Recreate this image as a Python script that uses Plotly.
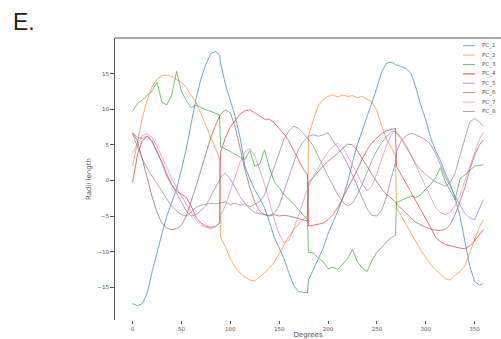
import plotly.graph_objects as go

# Angular positions (degrees); each quadrant ends at q*90+89 so jumps at 90/180/270 draw as verticals
DEGREES = [
    0, 5, 10, 15, 20, 25, 30, 35, 40, 45, 50, 55, 60, 65, 70, 75, 80, 85, 89,
    90, 95, 100, 105, 110, 115, 120, 125, 130, 135, 140, 145, 150, 155, 160, 165, 170, 175, 179,
    180, 185, 190, 195, 200, 205, 210, 215, 220, 225, 230, 235, 240, 245, 250, 255, 260, 265, 269,
    270, 275, 280, 285, 290, 295, 300, 305, 310, 315, 320, 325, 330, 335, 340, 345, 350, 355, 359,
]

PC_1 = [
    -17.3, -17.6, -17.3, -15.8, -12.8, -10.0, -7.5, -5.0, -3.0, -1.2, 1.5, 4.5, 8.0, 11.5, 14.3, 16.3, 17.8, 18.1, 17.6,
    16.5, 13.5, 11.2, 9.0, 6.0, 2.0, 0.2, -1.3, -2.5, -3.8, -5.8, -8.0, -9.5, -11.0, -13.0, -14.8, -15.6, -15.7, -15.8,
    -14.0, -12.5, -11.0, -9.5, -7.5, -6.0, -4.3, -2.5, -0.3, 2.5, 5.0, 7.0, 9.0, 10.8, 13.0, 15.3, 16.5, 16.6, 16.3,
    16.2, 16.0, 15.7, 15.0, 13.0, 10.5, 8.5, 6.0, 4.2, 2.8, 1.0, -0.5, -2.5, -5.0, -8.5, -12.0, -14.2, -14.7, -14.5,
]
PC_2 = [
    2.0, 5.5, 8.8, 11.3, 13.2, 14.2, 14.7, 14.8, 14.6, 14.2, 13.8, 13.0, 12.0, 10.9, 9.4, 7.8, 6.0, 4.4, 3.0,
    -8.0, -9.3, -11.0, -12.2, -13.0, -13.6, -14.0, -14.1, -13.6, -13.0, -12.3, -11.5, -10.3, -9.0, -7.8, -6.9, -6.1, -5.4, -5.0,
    6.2, 8.5, 10.5, 11.3, 11.8, 12.0, 11.7, 12.0, 11.8, 11.9, 11.6, 11.8, 11.4, 11.0, 9.8, 7.6, 5.8, 4.5, 3.5,
    -3.8, -5.0, -6.3, -7.5, -8.7, -9.8, -10.8, -11.8, -12.5, -13.2, -13.8, -14.0, -13.3, -12.8, -12.0, -10.2, -8.2, -6.5, -5.5,
]
PC_3 = [
    9.7, 10.8, 11.3, 11.9, 12.6, 13.8, 11.0, 10.6, 12.0, 15.3, 12.5, 11.2, 10.2, 10.6, 10.2, 9.9, 9.7, 9.4, 9.2,
    4.8, 4.4, 4.0, 3.6, 3.3, 2.9, 4.2, 2.0, 2.3, 4.3, 1.8, -0.2, -1.0, -2.0, -2.6, -3.4, -4.2, -5.0, -5.5,
    -10.1, -10.2, -10.9, -11.4, -12.4, -12.2, -12.5, -11.8, -11.0, -9.7, -11.4, -12.3, -12.8, -11.2, -10.1, -9.4, -8.6, -8.0, -7.7,
    -3.1, -2.8, -2.5, -2.2, -2.4, -2.0, -1.2, -0.6, 0.4, 1.8, -0.2, -1.5, -2.7, 0.2, 0.8, 1.5, 2.0, 2.1, 2.2,
]
PC_4 = [
    -0.3, 3.6, 5.6, 6.2, 5.4, 4.0, 2.5, 0.6, -0.6, -1.5, -2.0, -2.4, -3.6, -5.2, -6.0, -6.4, -6.6, -6.4, -6.0,
    4.0, 6.0, 7.5, 8.4, 9.3, 9.8, 9.9, 9.5, 9.0, 8.6, 8.6, 8.1, 7.3, 6.5, 5.5, 4.2, 2.8, 1.5, 0.8,
    -6.4, -6.3, -6.2, -6.0, -5.5, -4.8, -3.8, -2.5, -1.2, 0.2, 1.5, 3.0, 4.3, 5.3, 6.0, 6.6, 7.0, 7.2, 7.3,
    2.0, 0.8, -0.5, -1.8, -3.0, -4.2, -5.3, -6.6, -8.0, -8.6, -9.0, -9.2, -9.4, -9.5, -9.6, -9.2, -8.5, -7.6, -6.9,
]
PC_5 = [
    6.7, 6.0, 5.9, 6.3, 5.6, 4.2, 2.6, 1.0, -0.6, -1.8, -3.0, -4.3, -5.0, -4.8, -4.2, -3.6, -2.2, -1.0, 0.0,
    0.5, 1.0, 0.2, -1.0, -2.3, -3.2, -4.0, -4.5, -4.7, -4.8, -4.9, -4.6, -3.5, -1.5, 0.8, 2.8, 4.5, 5.5, 6.0,
    6.2, 6.4, 6.2, 6.4, 6.7, 5.6, 4.6, 3.6, 2.3, 0.8, -0.8, -2.5, -4.0, -4.9, -5.0, -4.2, -2.2, 0.5, 2.5,
    4.0, 5.6, 6.3, 6.6, 6.4, 6.0, 5.7, 5.0, 3.8, 2.2, 0.5, -0.8, -2.2, -3.5, -4.6, -5.3, -5.5, -4.0, -2.7,
]
PC_6 = [
    6.7, 5.5, 3.0, 0.3, -2.3, -4.5, -6.0, -6.7, -6.9, -6.8, -6.3, -5.0, -3.0, -0.8, 1.5, 3.8, 6.0, 7.8, 9.0,
    9.3, 9.9, 9.5, 7.5, 4.5, 1.5, -1.0, -3.0, -4.3, -4.8, -5.0, -4.8, -5.0, -4.9, -5.0, -5.2, -5.4, -5.6, -5.7,
    -0.3, 0.5, 1.2, 2.0, 2.7, 3.2, 3.8, 4.5, 5.1, 5.0, 4.2, 3.0, 2.0, 0.8, -0.2, -1.2, -2.0, -2.6, -3.0,
    -3.3, -4.0, -4.7, -5.3, -5.9, -6.3, -6.6, -6.8, -7.0, -7.0, -6.9, -6.2, -4.8, -3.0, -1.0, 1.5, 3.5, 5.0, 5.7,
]
PC_7 = [
    3.9, 5.2, 6.3, 6.6, 6.0, 4.8, 3.2, 1.8, 0.3, -1.0, -2.2, -3.3, -4.5, -5.6, -6.3, -6.6, -6.8, -6.5, -6.0,
    -5.0, -3.5, -1.5, 0.5, 2.5, 4.0, 4.5, 3.5, 1.5, -0.5, -3.0, -5.5, -7.5, -8.8, -8.4, -6.8, -4.8, -2.8, -1.2,
    -0.8, 0.5, 1.8, 3.0, 4.0, 4.8, 5.2, 4.6, 3.5, 2.2, 0.8, -0.5, -1.5, -0.8, 1.0, 3.0, 5.0, 6.5, 7.0,
    6.8, 6.0, 5.0, 3.5, 2.0, 0.5, -1.0, -2.5, -3.8, -4.5, -4.8, -4.5, -3.5, -2.0, 0.0, 2.0, 4.0, 5.8, 6.7,
]
PC_8 = [
    6.5, 4.8, 3.0, 1.7, 0.6, -0.5, -1.5, -2.6, -3.6, -4.3, -4.8, -5.0, -4.4, -3.8, -3.5, -3.3, -3.2, -3.3, -3.2,
    -3.2, -3.0, -3.4, -3.2, -3.5, -3.3, -3.7, -3.4, -3.0, -2.0, 0.0, 2.0, 4.0, 5.8, 7.0, 7.6, 7.3, 6.5, 6.0,
    5.8, 4.8, 3.5, 2.0, 0.6, -0.8, -2.0, -3.0, -3.6, -3.2, -2.0, -0.5, 1.2, 2.8, 4.2, 5.3, 6.2, 6.8, 7.0,
    6.6, 5.8, 4.6, 3.3, 2.3, 1.5, 0.8, 0.3, -0.2, -0.5, -0.8, -0.3, 1.0, 3.5, 6.0, 8.2, 8.7, 8.2, 7.6,
]

SERIES_NAMES = ["PC_1", "PC_2", "PC_3", "PC_4", "PC_5", "PC_6", "PC_7", "PC_8"]
SERIES_VALUES = [PC_1, PC_2, PC_3, PC_4, PC_5, PC_6, PC_7, PC_8]
COLORS = ["#1f77b4", "#ff7f0e", "#2ca02c", "#d62728", "#9467bd", "#8c564b", "#e377c2", "#7f7f7f"]

X_TICKS = [0, 50, 100, 150, 200, 250, 300, 350]
Y_TICKS = [-15, -10, -5, 0, 5, 10, 15]

W, H = 501, 339
ML, MR, MT, MB = 115, 0, 38, 19
PW, PH = W - ML - MR, H - MT - MB

fig = go.Figure()
for name, vals, col in zip(SERIES_NAMES, SERIES_VALUES, COLORS):
    fig.add_trace(go.Scatter(
        x=DEGREES, y=vals, mode="lines", name=name,
        line=dict(color=col, width=0.8), opacity=0.8, showlegend=False,
    ))

tick_font = dict(family="DejaVu Sans", size=5.5, color="#555")
label_font = dict(family="DejaVu Sans", size=7, color="#555")


def px_x(px):
    return (px - ML) / PW


def px_y(py):
    return (H - MB - py) / PH


# compact legend in the upper-right corner of the axes
shapes = [dict(type="line", xref="paper", yref="paper", x0=0, x1=1, y0=1, y1=1,
               line=dict(color="#555", width=1))]
annotations = []
for i, (name, col) in enumerate(zip(SERIES_NAMES, COLORS)):
    yy = px_y(45.7 + i * 9.4)
    shapes.append(dict(type="line", xref="paper", yref="paper",
                       x0=px_x(463), x1=px_x(475), y0=yy, y1=yy,
                       line=dict(color=col, width=1.1 if name == "PC_4" else 0.8),
                       opacity=0.8))
    annotations.append(dict(text=name, xref="paper", yref="paper", x=px_x(480), y=yy,
                            xanchor="left", yanchor="middle", showarrow=False,
                            font=dict(family="DejaVu Sans", size=5.5, color="#555")))

annotations.append(dict(text="E.", xref="paper", yref="paper", x=px_x(11), y=px_y(21.7),
                        xanchor="left", yanchor="middle", showarrow=False,
                        font=dict(family="Liberation Sans, Arial", size=23, color="#222")))

fig.update_layout(
    width=W, height=H,
    margin=dict(l=ML, r=MR, t=MT, b=MB),
    paper_bgcolor="white", plot_bgcolor="white",
    shapes=shapes, annotations=annotations,
    xaxis=dict(range=[-18, 377], tickvals=X_TICKS, ticks="outside", ticklen=3,
               tickcolor="#555", tickfont=tick_font, showgrid=False, zeroline=False,
               showline=False, title=dict(text="Degrees", font=label_font, standoff=1)),
    yaxis=dict(range=[-19.6, 20.0], tickvals=Y_TICKS, ticks="outside", ticklen=4,
               tickcolor="#555", tickfont=tick_font, showgrid=False, zeroline=False,
               showline=True, linecolor="#555", linewidth=1,
               title=dict(text="Radii length", font=label_font, standoff=4)),
)

fig.write_html("out.html")
